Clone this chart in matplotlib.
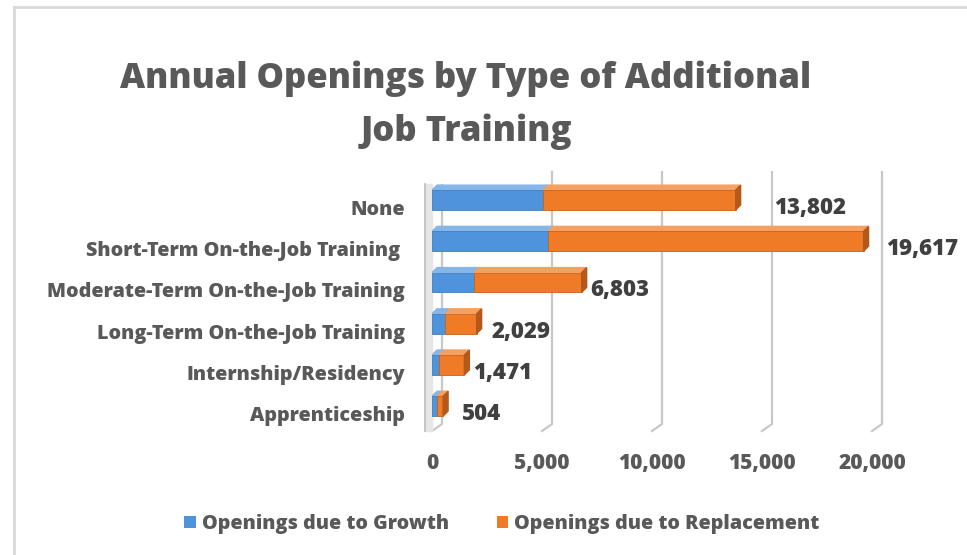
import matplotlib; matplotlib.use('Agg')
import numpy as np
import matplotlib.pyplot as plt
from matplotlib.patches import Polygon, Patch
from matplotlib.lines import Line2D

CATEGORIES = ['None', 'Short-Term On-the-Job Training ', 'Moderate-Term On-the-Job Training',
              'Long-Term On-the-Job Training', 'Internship/Residency', 'Apprenticeship']
GROWTH = [5050, 5270, 1900, 600, 320, 230]
REPLACEMENT = [8752, 14347, 4903, 1429, 1151, 274]
TOTALS = [13802, 19617, 6803, 2029, 1471, 504]
X_TICKS = [0, 5000, 10000, 15000, 20000]
LABEL_NUDGE_PX = [38, 23, 9, 15, 9, 19]

BLUE = '#4f93dc'
ORANGE = '#f07b26'
TEXT = '#595959'
FONT = 'Open Sans'
WEIGHT = 'heavy'

W, H, DPI = 967, 555, 100
fig = plt.figure(figsize=(W / DPI, H / DPI), dpi=DPI)
ax = fig.add_axes([432 / W, 1 - 428 / H, 440 / W, 256 / H])
ax.set_xlim(0, 20000)
ax.set_ylim(5.53, -0.68)
for s in ax.spines.values():
    s.set_visible(False)

# pixel -> data units
ux = 20000 / 440.0
uy = 6.21 / 256.0
dx, dy = 5 * ux, 5 * uy
bh = 0.48

# back grid lines with the 3D floor kink
for t in X_TICKS:
    gx = t + 10 * ux
    top = -0.68 + (13 if t == 0 else 0) * uy
    ax.plot([gx, gx, t], [top, 5.53 - 4 * uy, 5.53 + 3 * uy], color='#c8c8c8', lw=1.6,
            clip_on=False, zorder=1, solid_joinstyle='round')
# left wall
ax.fill_betweenx([-0.68 + 12 * uy, 5.53 + 3 * uy], -7 * ux, 0, color='#e6e6e6', zorder=1, clip_on=False)
ax.plot([-7 * ux, -7 * ux], [-0.68 + 12 * uy, 5.53 + 3 * uy], color='#bdbdbd', lw=1.2, clip_on=False, zorder=1)

y = np.arange(len(CATEGORIES))
ax.barh(y, GROWTH, height=bh, color=BLUE, edgecolor='#3f7fc4', lw=0.6, zorder=3)
ax.barh(y, REPLACEMENT, left=GROWTH, height=bh, color=ORANGE, edgecolor='#c8621c', lw=0.6, zorder=3)
for i, (g, tot) in enumerate(zip(GROWTH, TOTALS)):
    yt, yb = i - bh / 2, i + bh / 2
    # top faces
    ax.add_patch(Polygon([(0, yt), (g, yt), (g + dx, yt - dy), (dx, yt - dy)],
                         closed=True, color='#86b6e8', zorder=2))
    ax.add_patch(Polygon([(g, yt), (tot, yt), (tot + dx, yt - dy), (g + dx, yt - dy)],
                         closed=True, color='#f5a060', zorder=2))
    # end face
    ax.add_patch(Polygon([(tot, yb), (tot + dx, yb - dy), (tot + dx, yt - dy), (tot, yt)],
                         closed=True, color='#b5581c', zorder=4))
    ax.annotate(f'{tot:,}', xy=(tot, i), xytext=(LABEL_NUDGE_PX[i] * 0.72, -8 * 0.72),
                textcoords='offset points', ha='left', va='center', fontsize=16,
                fontweight=WEIGHT, color='#404040', family=FONT, annotation_clip=False)
    # category label, shifted down like the 3D floor labels
    ax.annotate(CATEGORIES[i], xy=(0, i), xycoords=('axes fraction', 'data'),
                xytext=(-27 * 0.72, -10 * 0.72), textcoords='offset points',
                ha='right', va='center', fontsize=14.25, fontweight=WEIGHT, color=TEXT,
                family=FONT, annotation_clip=False)

ax.set_yticks([])
ax.set_xticks(X_TICKS)
ax.set_xticklabels([f'{t:,}' for t in X_TICKS], fontsize=15, fontweight=WEIGHT, color=TEXT, family=FONT)
ax.tick_params(axis='x', length=0, pad=18)

fig.text(466 / W, 1 - 79 / H, 'Annual Openings by Type of Additional', ha='center', va='center',
         fontsize=24.9, fontweight=WEIGHT, color=TEXT, family=FONT)
fig.text(466 / W, 1 - 132 / H, 'Job Training', ha='center', va='center',
         fontsize=24.9, fontweight=WEIGHT, color=TEXT, family=FONT)

handles = [Patch(facecolor=BLUE), Patch(facecolor=ORANGE)]
leg = fig.legend(handles, ['Openings due to Growth', 'Openings due to Replacement'],
                 loc='center', bbox_to_anchor=(502 / W, 1 - 524 / H), ncol=2, frameon=False,
                 handlelength=0.6, handleheight=0.6, handletextpad=0.3, columnspacing=2.4,
                 prop={'family': FONT, 'weight': WEIGHT, 'size': 14.2})
for t in leg.get_texts():
    t.set_color(TEXT)

# chart border (left and top)
fig.add_artist(Line2D([13.5 / W, 13.5 / W], [0, 1 - 7 / H], color='#d9d9d9', lw=2, transform=fig.transFigure))
fig.add_artist(Line2D([13.5 / W, 1], [1 - 7 / H, 1 - 7 / H], color='#d9d9d9', lw=2, transform=fig.transFigure))

fig.savefig('out.png', dpi=DPI)
